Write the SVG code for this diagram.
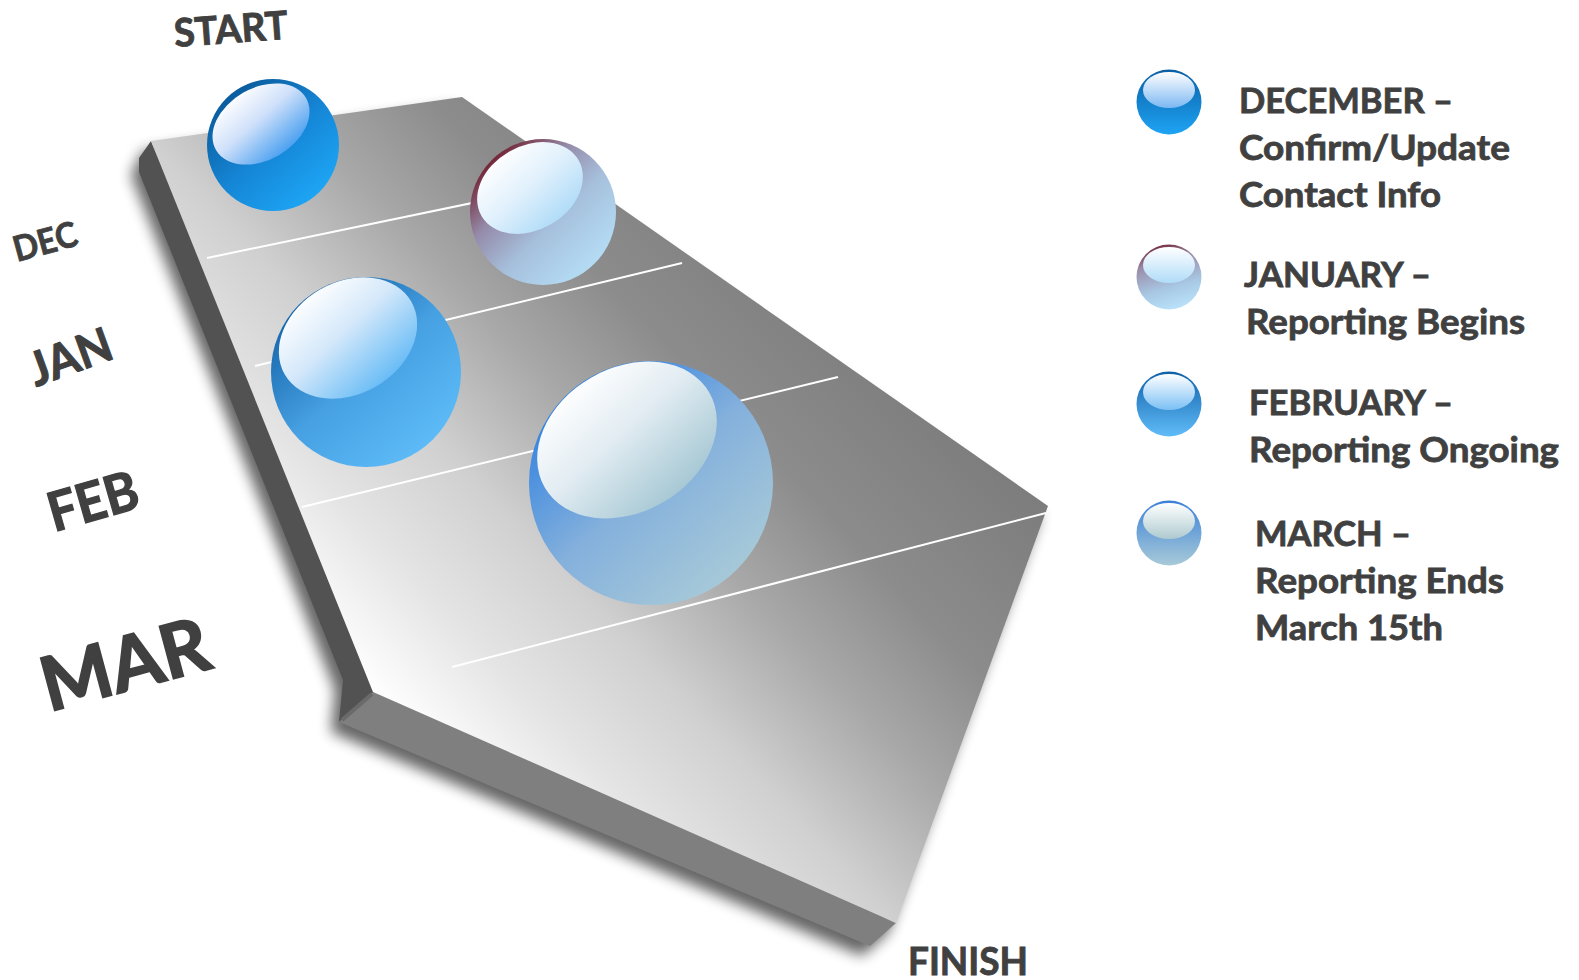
<svg xmlns="http://www.w3.org/2000/svg" width="1579" height="980" viewBox="0 0 1579 980">
<defs>
<style>
.lbl{font-family:Lato,"Open Sans","Liberation Sans",sans-serif;font-weight:700;fill:#404040;stroke:#404040;}
.leg{font-family:Lato,"Open Sans","Liberation Sans",sans-serif;font-weight:700;fill:#404040;font-size:34.5px;stroke:#404040;stroke-width:0.8px;}
.div{stroke:#ffffff;stroke-width:2;fill:none;}
</style>
<filter id="shadow" x="-20%" y="-20%" width="140%" height="140%"><feGaussianBlur stdDeviation="7"/></filter>
<linearGradient id="topFace" gradientUnits="userSpaceOnUse" x1="370" y1="690" x2="812" y2="269">
<stop offset="0" stop-color="#ffffff"/>
<stop offset="0.18" stop-color="#e4e4e4"/>
<stop offset="0.36" stop-color="#d0d0d0"/>
<stop offset="0.56" stop-color="#a8a8a8"/>
<stop offset="0.74" stop-color="#8c8c8c"/>
<stop offset="1" stop-color="#7d7d7d"/>
</linearGradient>
<linearGradient id="g1" x1="0.15" y1="0.1" x2="0.85" y2="0.9"><stop offset="0" stop-color="#0a5a9a"/><stop offset="0.5" stop-color="#1585d5"/><stop offset="1" stop-color="#1ea6f6"/></linearGradient>
<linearGradient id="h1" x1="0.3" y1="0" x2="0.6" y2="1"><stop offset="0" stop-color="#ffffff"/><stop offset="0.45" stop-color="#cfe0fa"/><stop offset="1" stop-color="#4aa0f0"/></linearGradient>
<linearGradient id="g2" x1="0.1" y1="0.15" x2="0.85" y2="0.9"><stop offset="0" stop-color="#701c2c"/><stop offset="0.3" stop-color="#948aa8"/><stop offset="0.6" stop-color="#a6c0dc"/><stop offset="1" stop-color="#b6def6"/></linearGradient>
<linearGradient id="h2" x1="0.3" y1="0" x2="0.6" y2="1"><stop offset="0" stop-color="#ffffff"/><stop offset="0.5" stop-color="#e0f0fc"/><stop offset="1" stop-color="#b0dcf8"/></linearGradient>
<linearGradient id="g3" x1="0.15" y1="0.1" x2="0.85" y2="0.9"><stop offset="0" stop-color="#1462a8"/><stop offset="0.5" stop-color="#46a0e2"/><stop offset="1" stop-color="#5ebcf8"/></linearGradient>
<linearGradient id="h3" x1="0.3" y1="0" x2="0.6" y2="1"><stop offset="0" stop-color="#ffffff"/><stop offset="0.45" stop-color="#d4e8fa"/><stop offset="1" stop-color="#68bcf6"/></linearGradient>
<linearGradient id="g4" x1="0.15" y1="0.1" x2="0.85" y2="0.9"><stop offset="0" stop-color="#2e80e0"/><stop offset="0.5" stop-color="#84b0dc"/><stop offset="1" stop-color="#a8cad8"/></linearGradient>
<linearGradient id="h4" x1="0.3" y1="0" x2="0.6" y2="1"><stop offset="0" stop-color="#ffffff"/><stop offset="0.45" stop-color="#e2ecf2"/><stop offset="1" stop-color="#a6c8d4"/></linearGradient>
<linearGradient id="lg1" x1="0" y1="0" x2="0" y2="1"><stop offset="0" stop-color="#0a5ea4"/><stop offset="1" stop-color="#1ea4f4"/></linearGradient>
<linearGradient id="lh1" x1="0" y1="0" x2="0" y2="1"><stop offset="0" stop-color="#ffffff"/><stop offset="1" stop-color="#7cb8f2"/></linearGradient>
<linearGradient id="lg2" x1="0.2" y1="0" x2="0.5" y2="1"><stop offset="0" stop-color="#6e1a2a"/><stop offset="0.3" stop-color="#9a8ca8"/><stop offset="0.7" stop-color="#a8c8e4"/><stop offset="1" stop-color="#b8e0f8"/></linearGradient>
<linearGradient id="lh2" x1="0" y1="0" x2="0" y2="1"><stop offset="0" stop-color="#ffffff"/><stop offset="1" stop-color="#b0dcf8"/></linearGradient>
<linearGradient id="lg3" x1="0" y1="0" x2="0" y2="1"><stop offset="0" stop-color="#1060a8"/><stop offset="1" stop-color="#60bcf8"/></linearGradient>
<linearGradient id="lh3" x1="0" y1="0" x2="0" y2="1"><stop offset="0" stop-color="#ffffff"/><stop offset="1" stop-color="#7cc0f5"/></linearGradient>
<linearGradient id="lg4" x1="0" y1="0" x2="0" y2="1"><stop offset="0" stop-color="#3a80d8"/><stop offset="1" stop-color="#a8cad8"/></linearGradient>
<linearGradient id="lh4" x1="0" y1="0" x2="0" y2="1"><stop offset="0" stop-color="#ffffff"/><stop offset="1" stop-color="#aecacf"/></linearGradient>
</defs>
<rect width="1579" height="980" fill="#ffffff"/>
<g id="slab">
<polygon points="151,141 139,165 343,680 339,722 870,946 896,923 1048,506 462,97" fill="#000" opacity="0.6" transform="translate(-8,10)" filter="url(#shadow)"/>
<polygon points="151,141 139,158 139,172 343,680 339,722 373,692" fill="#525252"/>
<polygon points="373,692 896,923 870,946 339,722" fill="#7f7f7f"/>
<line x1="372" y1="694" x2="342" y2="720" stroke="#6a6a6a" stroke-width="4"/>
<polygon points="151,141 462,97 1048,506 896,923 373,692" fill="url(#topFace)"/>
</g>
<g id="dividers">
<line class="div" x1="207" y1="258" x2="583" y2="180"/>
<line class="div" x1="255" y1="366" x2="682" y2="263"/>
<line class="div" x1="302" y1="507" x2="838" y2="377"/>
<line class="div" x1="452" y1="667" x2="1046" y2="513"/>
</g>
<g id="sphere-dec">
<circle cx="273" cy="145" r="66" fill="url(#g1)"/>
<ellipse cx="261" cy="124" rx="52" ry="36" transform="rotate(-30 261 124)" fill="url(#h1)"/>
</g>
<g id="sphere-jan">
<circle cx="543" cy="212" r="73" fill="url(#g2)"/>
<ellipse cx="530" cy="188" rx="56" ry="42" transform="rotate(-30 530 188)" fill="url(#h2)"/>
</g>
<g id="sphere-feb">
<circle cx="366" cy="372" r="95" fill="url(#g3)"/>
<ellipse cx="348" cy="338" rx="73" ry="56" transform="rotate(-30 348 338)" fill="url(#h3)"/>
</g>
<g id="sphere-mar">
<circle cx="651" cy="483" r="122" fill="url(#g4)"/>
<ellipse cx="627" cy="440" rx="95" ry="72" transform="rotate(-30 627 440)" fill="url(#h4)"/>
</g>
<g id="labels">
<text class="lbl" x="175" y="47" font-size="39" stroke-width="0.9" transform="rotate(-4.2 175 47)" textLength="114" lengthAdjust="spacingAndGlyphs">START</text>
<text class="lbl" x="17" y="262" font-size="35" stroke-width="0.8" transform="rotate(-15.3 17 262)" textLength="65" lengthAdjust="spacingAndGlyphs">DEC</text>
<text class="lbl" x="36" y="387" font-size="47" stroke-width="1.1" transform="rotate(-20 36 387)" textLength="85" lengthAdjust="spacingAndGlyphs">JAN</text>
<text class="lbl" x="54" y="532" font-size="54" stroke-width="1.3" transform="rotate(-16 54 532)" textLength="92" lengthAdjust="spacingAndGlyphs">FEB</text>
<text class="lbl" x="49" y="712" font-size="75" stroke-width="1.8" transform="rotate(-15 49 712)" textLength="171" lengthAdjust="spacingAndGlyphs">MAR</text>
<text class="lbl" x="908" y="975" font-size="38" stroke-width="0.9" textLength="120" lengthAdjust="spacingAndGlyphs">FINISH</text>
</g>
<g id="legend-dec">
<circle cx="1169" cy="102" r="32.5" fill="url(#lg1)"/>
<ellipse cx="1169" cy="90" rx="26" ry="18" fill="url(#lh1)"/>
<text class="leg" x="1239" y="113" textLength="214" lengthAdjust="spacingAndGlyphs">DECEMBER –</text>
<text class="leg" x="1239" y="160" textLength="271" lengthAdjust="spacingAndGlyphs">Confirm/Update</text>
<text class="leg" x="1239" y="207" textLength="202" lengthAdjust="spacingAndGlyphs">Contact Info</text>
</g>
<g id="legend-jan">
<circle cx="1169" cy="277" r="32.5" fill="url(#lg2)"/>
<ellipse cx="1169" cy="265" rx="26" ry="18" fill="url(#lh2)"/>
<text class="leg" x="1244" y="287" textLength="187" lengthAdjust="spacingAndGlyphs">JANUARY –</text>
<text class="leg" x="1246" y="334" textLength="279" lengthAdjust="spacingAndGlyphs">Reporting Begins</text>
</g>
<g id="legend-feb">
<circle cx="1169" cy="404" r="32.5" fill="url(#lg3)"/>
<ellipse cx="1169" cy="392" rx="26" ry="18" fill="url(#lh3)"/>
<text class="leg" x="1249" y="415" textLength="204" lengthAdjust="spacingAndGlyphs">FEBRUARY –</text>
<text class="leg" x="1249" y="462" textLength="310" lengthAdjust="spacingAndGlyphs">Reporting Ongoing</text>
</g>
<g id="legend-mar">
<circle cx="1169" cy="533" r="32.5" fill="url(#lg4)"/>
<ellipse cx="1169" cy="521" rx="26" ry="18" fill="url(#lh4)"/>
<text class="leg" x="1255" y="546" textLength="156" lengthAdjust="spacingAndGlyphs">MARCH –</text>
<text class="leg" x="1255" y="593" textLength="249" lengthAdjust="spacingAndGlyphs">Reporting Ends</text>
<text class="leg" x="1255" y="640" textLength="188" lengthAdjust="spacingAndGlyphs">March 15th</text>
</g>
</svg>
